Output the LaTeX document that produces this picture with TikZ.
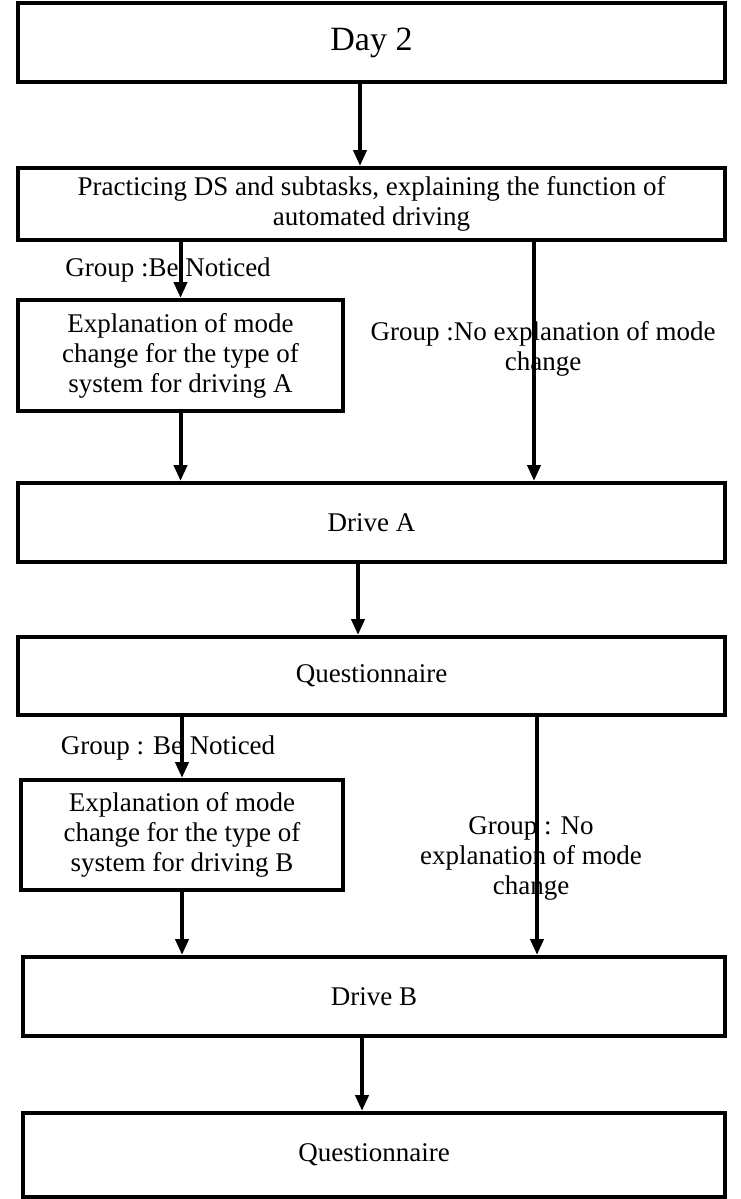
\documentclass[tikz,border=0pt]{standalone}
\usepackage{fontspec}
\setmainfont{Liberation Serif}
\usepackage{tikz}
\usetikzlibrary{arrows.meta}

\tikzset{
  box/.style={draw,line width=4pt,align=center,inner sep=0pt,font=\fontsize{27}{30}\selectfont},
  arr/.style={line width=4pt,-{Triangle[length=16pt,width=13pt]}},
  lbl/.style={align=center,inner sep=0pt,font=\fontsize{27}{30}\selectfont}
}

\begin{document}
\begin{tikzpicture}[x=1pt,y=-1pt]
\useasboundingbox (0,0) rectangle (740,1199);
% boxes
\node[box,minimum width=707pt,minimum height=79pt,font=\fontsize{34}{36}\selectfont] (day) at (371.5,42.5) {Day 2};
\node[box,minimum width=707pt,minimum height=72pt] (prac) at (371.5,204) {Practicing DS and subtasks, explaining the function of\\automated driving};
\node[box,minimum width=325pt,minimum height=111pt] (expA) at (180.5,355.5) {Explanation of mode\\change for the type of\\system for driving A};
\node[box,minimum width=707pt,minimum height=79pt] (drvA) at (371.5,522.5) {Drive A};
\node[box,minimum width=707pt,minimum height=78pt] (qA) at (371.5,676) {Questionnaire};
\node[box,minimum width=322pt,minimum height=110pt] (expB) at (182,835) {Explanation of mode\\change for the type of\\system for driving B};
\node[box,minimum width=702pt,minimum height=79pt] (drvB) at (374,996.5) {Drive B};
\node[box,minimum width=702pt,minimum height=84pt] (qB) at (374,1155) {Questionnaire};
% group labels
\node[lbl] (gA1) at (168,270) {Group :Be Noticed};
\node[lbl] (gA2) at (543,349) {Group :No explanation of mode\\change};
\node[lbl] (gB1) at (168,748) {Group : Be Noticed};
\node[lbl] (gB2) at (531,858) {Group : No\\explanation of mode\\change};
% arrows
\coordinate (c1) at (360,0);
\coordinate (c2) at (534,0);
\coordinate (c3) at (358,0);
\coordinate (c4) at (537,0);
\coordinate (c5) at (362,0);
\draw[arr] (day.south -| c1) -- (prac.north -| c1);
\draw[arr] (prac.south -| expA.north) -- (expA.north);
\draw[arr] (prac.south -| c2) -- (drvA.north -| c2);
\draw[arr] (expA.south) -- (drvA.north -| expA.south);
\draw[arr] (drvA.south -| c3) -- (qA.north -| c3);
\draw[arr] (qA.south -| expB.north) -- (expB.north);
\draw[arr] (qA.south -| c4) -- (drvB.north -| c4);
\draw[arr] (expB.south) -- (drvB.north -| expB.south);
\draw[arr] (drvB.south -| c5) -- (qB.north -| c5);
\end{tikzpicture}
\end{document}
